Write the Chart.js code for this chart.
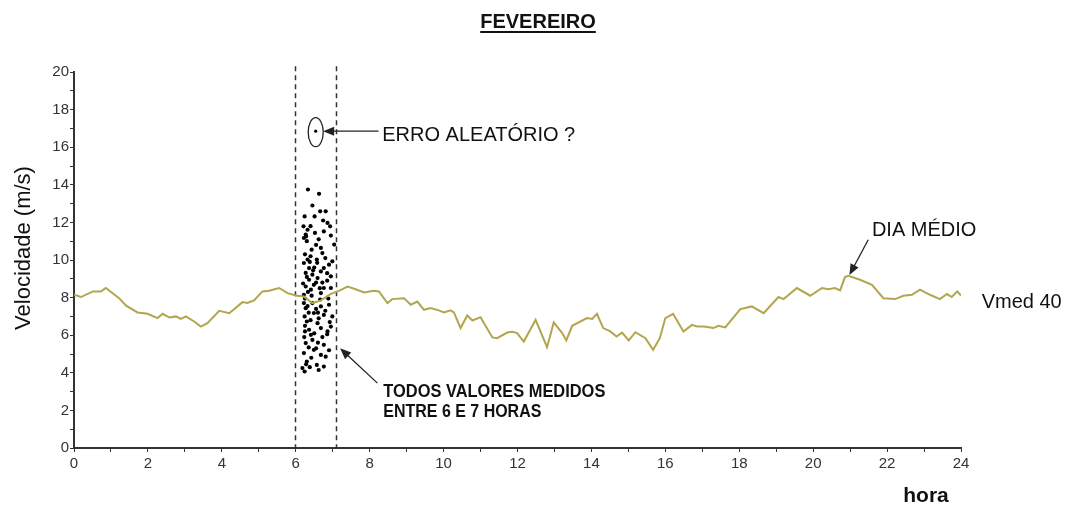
<!DOCTYPE html>
<html>
<head>
<meta charset="utf-8">
<script src="https://cdn.jsdelivr.net/npm/chart.js@4.4.1/dist/chart.umd.min.js"></script>
<style>
  html, body { margin: 0; padding: 0; background: #fff; }
  canvas { display: block; }
</style>
</head>
<body>
<canvas id="canvas" width="1074" height="507"></canvas>
<script>
// mean day (Vmed 40): hour of day and speed in m/s
var meanHours = [0, 0.19, 0.51, 0.73, 0.86, 1.22, 1.41, 1.72, 1.99, 2.26, 2.40, 2.58, 2.76, 2.89, 3.03, 3.25, 3.43, 3.61, 3.93, 4.20,
    4.56, 4.69, 4.87, 5.10, 5.28, 5.55, 5.78, 6.00, 6.22, 6.45, 6.68, 6.95, 7.17, 7.40, 7.58, 7.85, 8.11, 8.25, 8.48, 8.61,
    8.93, 9.11, 9.29, 9.47, 9.65, 9.87, 10.01, 10.19, 10.28, 10.46, 10.64, 10.78, 11.00, 11.32, 11.45, 11.72, 11.86, 11.99, 12.17, 12.49,
    12.80, 12.98, 13.21, 13.32, 13.48, 13.88, 14.02, 14.15, 14.32, 14.51, 14.68, 14.83, 15.01, 15.19, 15.46, 15.67, 15.85, 16.00, 16.21, 16.49,
    16.72, 16.86, 17.04, 17.30, 17.44, 17.62, 18.03, 18.34, 18.66, 19.06, 19.20, 19.56, 19.92, 20.24, 20.41, 20.59, 20.73, 20.86, 20.95, 21.27,
    21.59, 21.90, 22.22, 22.44, 22.67, 22.89, 23.16, 23.43, 23.62, 23.75, 23.90, 24.00];
var meanSpeed = [8.15, 8.03, 8.33, 8.33, 8.51, 7.97, 7.57, 7.21, 7.14, 6.91, 7.14, 6.94, 7.00, 6.87, 7.00, 6.73, 6.46, 6.64, 7.30, 7.17,
    7.76, 7.71, 7.85, 8.33, 8.36, 8.51, 8.24, 8.11, 8.06, 7.71, 7.85, 8.20, 8.36, 8.59, 8.47, 8.27, 8.36, 8.33, 7.71, 7.92,
    7.97, 7.62, 7.79, 7.35, 7.44, 7.32, 7.21, 7.32, 7.21, 6.38, 7.05, 6.78, 6.96, 5.88, 5.84, 6.14, 6.18, 6.11, 5.66, 6.82,
    5.36, 6.68, 6.11, 5.72, 6.50, 6.91, 6.86, 7.14, 6.38, 6.20, 5.93, 6.14, 5.72, 6.16, 5.84, 5.22, 5.84, 6.91, 7.14, 6.20,
    6.55, 6.46, 6.46, 6.38, 6.50, 6.41, 7.39, 7.53, 7.17, 8.03, 7.92, 8.51, 8.10, 8.51, 8.45, 8.51, 8.38, 9.09, 9.16, 8.95,
    8.68, 7.97, 7.92, 8.10, 8.15, 8.42, 8.15, 7.92, 8.19, 8.03, 8.33, 8.11];

// every value measured between 6 and 7 h
var sampleHours = [6.33, 6.63, 6.66, 6.81, 6.24, 6.51, 6.86, 6.93, 6.21, 6.32, 6.27, 6.22, 6.52, 6.76, 7.04, 6.43, 6.68, 6.72, 6.57, 6.32,
    6.22, 6.99, 6.90, 6.36, 6.76, 6.68, 6.27, 6.45, 6.95, 6.59, 6.36, 6.49, 6.27, 6.76, 6.41, 6.95, 6.22, 6.68, 6.45, 6.22,
    6.27, 6.68, 6.90, 6.49, 6.76, 6.99, 6.24, 6.30, 6.59, 6.68, 6.95, 6.36, 6.41, 6.86, 6.45, 6.27, 6.76, 6.49, 6.22, 6.68,
    6.81, 6.30, 6.57, 6.24, 6.76, 6.18, 6.28, 6.30, 6.25, 6.40, 6.55, 6.62, 6.80, 6.85, 6.50, 6.38, 6.30, 6.55, 6.65, 6.85,
    6.33, 6.25, 6.55, 6.35, 6.80, 6.62, 6.40, 6.92, 6.25, 6.50, 6.72, 6.35, 6.60, 6.90, 6.42, 6.28, 6.62, 6.45, 6.74, 6.40,
    6.95, 6.58, 6.47, 6.72, 6.20, 6.43, 6.88, 6.66, 6.32, 6.60, 6.25, 6.85, 6.55, 6.23, 6.38];
var sampleSpeed = [13.75, 13.52, 12.59, 12.59, 12.32, 12.32, 11.97, 11.79, 11.79, 11.61, 11.35, 11.17, 11.44, 11.52, 10.82, 10.55, 10.64, 10.37, 10.02, 10.02,
    9.84, 9.93, 9.75, 9.57, 9.57, 9.39, 9.31, 9.22, 9.13, 9.04, 8.95, 8.68, 8.59, 8.51, 8.42, 8.51, 8.15, 8.24, 7.71, 7.71,
    7.44, 7.53, 7.62, 7.18, 7.08, 7.00, 7.00, 6.73, 6.64, 6.38, 6.46, 6.29, 6.02, 6.20, 5.75, 5.58, 5.49, 5.22, 5.05, 4.95,
    4.86, 4.60, 4.42, 4.07, 4.33, 4.25, 11.25, 11.00, 10.30, 10.20, 10.80, 11.10, 10.10, 9.30, 9.60, 9.90, 9.10, 8.80, 8.50, 8.90,
    8.30, 7.95, 7.40, 7.20, 7.30, 6.90, 6.80, 6.70, 6.50, 6.10, 5.90, 5.35, 5.60, 5.20, 4.80, 4.45, 4.15, 12.90, 12.10, 11.80,
    11.30, 9.85, 9.45, 8.80, 8.75, 8.10, 7.95, 7.90, 7.55, 7.20, 6.20, 6.05, 5.30, 5.90, 4.30];

// the isolated reading flagged as a possible random error
var outlierHour = 6.54;
var outlierSpeed = 16.85;

// measurement window edges (h)
var windowEdges = [5.97, 7.1];

var hourTicks = [0, 2, 4, 6, 8, 10, 12, 14, 16, 18, 20, 22, 24];
var speedTicks = [0, 2, 4, 6, 8, 10, 12, 14, 16, 18, 20];

var font = '"Liberation Sans", Arial, sans-serif';

function toPoints(xs, ys) {
    return xs.map(function(x, i) { return { x: x, y: ys[i] }; });
}

function arrow(ctx, x0, y0, x1, y1) {
    var a = Math.atan2(y1 - y0, x1 - x0);
    ctx.beginPath();
    ctx.moveTo(x0, y0);
    ctx.lineTo(x1 - 8 * Math.cos(a), y1 - 8 * Math.sin(a));
    ctx.stroke();
    ctx.beginPath();
    ctx.moveTo(x1, y1);
    ctx.lineTo(x1 - 11 * Math.cos(a) + 4.5 * Math.sin(a), y1 - 11 * Math.sin(a) - 4.5 * Math.cos(a));
    ctx.lineTo(x1 - 11 * Math.cos(a) - 4.5 * Math.sin(a), y1 - 11 * Math.sin(a) + 4.5 * Math.cos(a));
    ctx.closePath();
    ctx.fill();
}

var notes = {
    id: 'notes',
    beforeDatasetsDraw: function(chart) {
        var ctx = chart.ctx, xs = chart.scales.x, ys = chart.scales.y;
        ctx.save();
        ctx.strokeStyle = '#333';
        ctx.lineWidth = 1.5;
        ctx.setLineDash([5, 4]);
        windowEdges.forEach(function(h) {
            var px = Math.round(xs.getPixelForValue(h)) + 0.5;
            ctx.beginPath();
            ctx.moveTo(px, ys.getPixelForValue(20.3));
            ctx.lineTo(px, ys.getPixelForValue(0));
            ctx.stroke();
        });
        ctx.restore();
    },
    afterDatasetsDraw: function(chart) {
        var ctx = chart.ctx, xs = chart.scales.x, ys = chart.scales.y;
        var px = function(h) { return xs.getPixelForValue(h); };
        var py = function(v) { return ys.getPixelForValue(v); };
        ctx.save();
        ctx.strokeStyle = '#222';
        ctx.fillStyle = '#222';
        ctx.lineWidth = 1.3;

        // ring round the outlier
        ctx.beginPath();
        ctx.ellipse(px(outlierHour), py(outlierSpeed) + 1, 7.5, 14.5, 0, 0, Math.PI * 2);
        ctx.stroke();
        arrow(ctx, px(8.24), py(outlierSpeed), px(outlierHour + 0.2), py(outlierSpeed));

        // peak of the mean day
        arrow(ctx, px(21.49), py(11.08), px(20.98), py(9.2));

        // pointer to the measured cloud
        arrow(ctx, px(8.21), py(3.45), px(7.2), py(5.3));

        ctx.fillStyle = '#111';
        ctx.textBaseline = 'alphabetic';
        ctx.textAlign = 'left';
        ctx.font = '20px ' + font;
        ctx.fillText('ERRO ALEATÓRIO ?', px(8.34), py(16.32));
        ctx.fillText('DIA MÉDIO', px(21.59), py(11.26));
        ctx.fillText('Vmed 40', px(24.56), py(7.44));
        ctx.font = 'bold 18px ' + font;
        ctx.fillText('TODOS VALORES MEDIDOS', px(8.37), py(2.73), 222);
        ctx.fillText('ENTRE 6 E 7 HORAS', px(8.37), py(1.64), 158);
        ctx.restore();
    },
    afterDraw: function(chart) {
        var ctx = chart.ctx;
        ctx.save();
        ctx.fillStyle = '#111';
        ctx.textAlign = 'center';
        ctx.font = 'bold 20px ' + font;
        ctx.fillText('FEVEREIRO', 538, 28);
        var w = ctx.measureText('FEVEREIRO').width;
        ctx.fillRect(538 - w / 2, 31, w, 2);

        ctx.font = 'bold 21px ' + font;
        ctx.fillText('hora', 926, 502);

        ctx.translate(30, 248);
        ctx.rotate(-Math.PI / 2);
        ctx.font = '22px ' + font;
        ctx.fillText('Velocidade (m/s)', 0, 0);
        ctx.restore();
    }
};

var axisStyle = {
    grid: { drawOnChartArea: false, tickLength: 4, color: '#333', lineWidth: 1 },
    border: { color: '#333', width: 2 }
};

var config = {
    type: 'scatter',
    data: {
        datasets: [{
            label: 'Vmed 40',
            data: toPoints(meanHours, meanSpeed),
            showLine: true,
            borderColor: '#b3a54e',
            borderWidth: 2,
            pointRadius: 0,
            tension: 0
        }, {
            label: 'medidos 6-7 h',
            data: toPoints(sampleHours, sampleSpeed),
            backgroundColor: '#000',
            borderColor: '#000',
            borderWidth: 0,
            pointRadius: 2.1
        }, {
            label: 'erro',
            data: [{ x: outlierHour, y: outlierSpeed }],
            backgroundColor: '#000',
            borderWidth: 0,
            pointRadius: 1.6
        }]
    },
    options: {
        responsive: false,
        animation: false,
        devicePixelRatio: 1,
        layout: { padding: { top: 72, right: 113, left: 0, bottom: 0 } },
        plugins: {
            legend: { display: false },
            tooltip: { enabled: false }
        },
        scales: {
            x: Object.assign({
                type: 'linear',
                min: 0,
                max: 24,
                afterFit: function(s) { s.height = 59; },
                ticks: {
                    stepSize: 1,
                    autoSkip: false,
                    maxRotation: 0,
                    padding: 3,
                    color: '#333',
                    font: { family: font, size: 15 },
                    callback: function(v) { return hourTicks.indexOf(v) >= 0 ? v : ''; }
                }
            }, axisStyle),
            y: Object.assign({
                type: 'linear',
                min: 0,
                max: 20,
                afterFit: function(s) { s.width = 74; },
                ticks: {
                    stepSize: 1,
                    autoSkip: false,
                    padding: 1,
                    color: '#333',
                    font: { family: font, size: 15 },
                    callback: function(v) { return speedTicks.indexOf(v) >= 0 ? v : ''; }
                }
            }, axisStyle)
        }
    },
    plugins: [notes]
};

window.myChart = new Chart(document.getElementById('canvas'), config);
</script>
</body>
</html>
